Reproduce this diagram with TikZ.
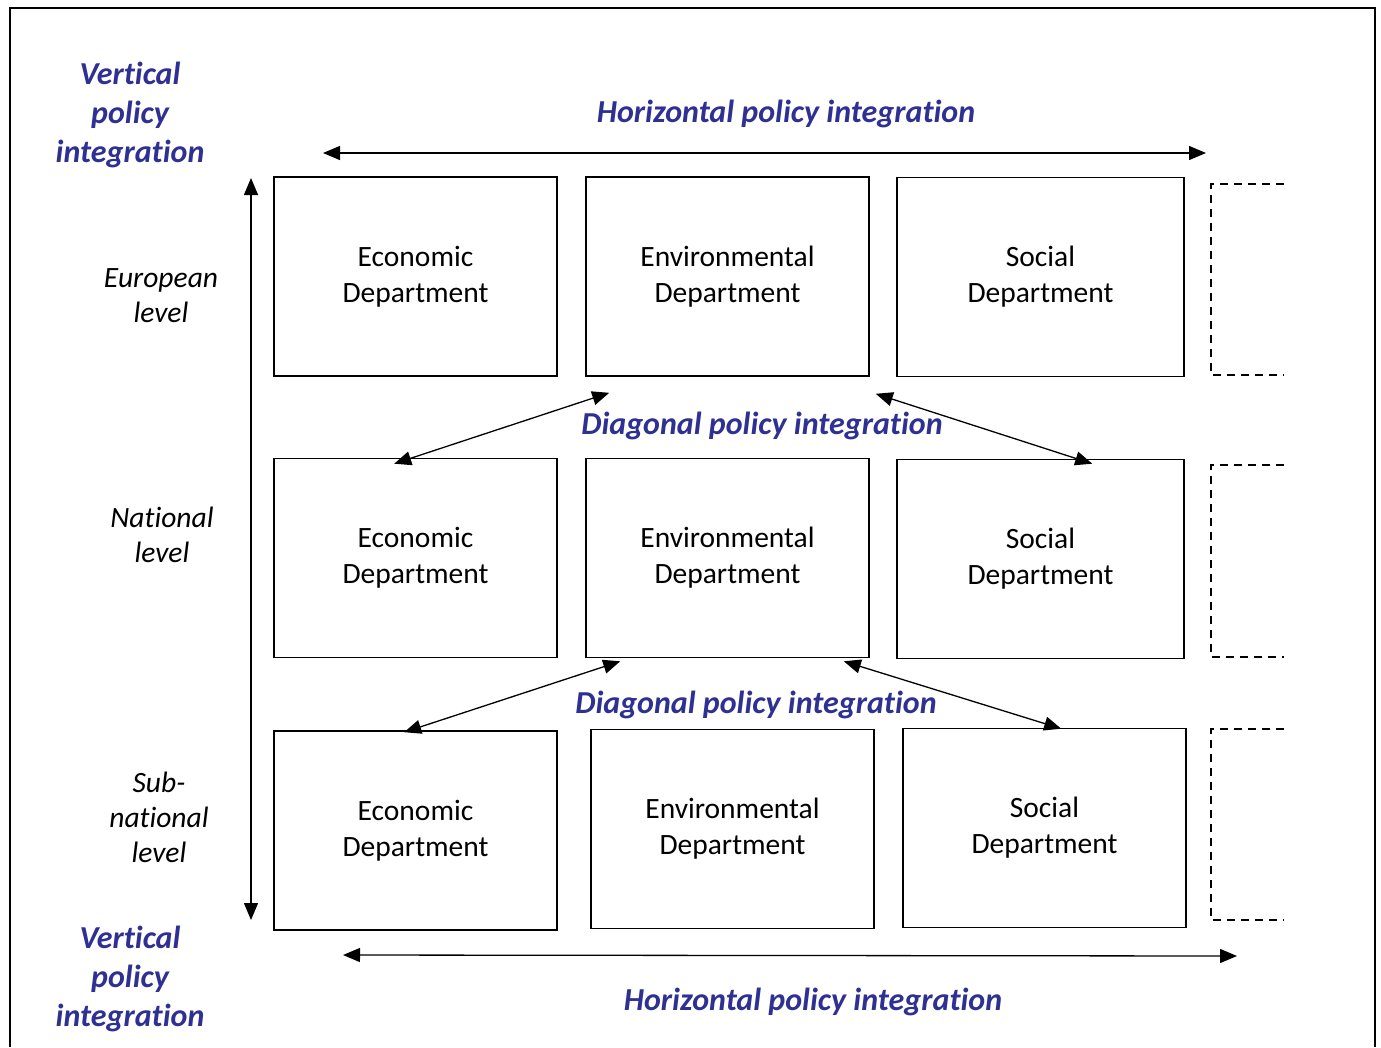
\documentclass[tikz,border=0pt]{standalone}
\usepackage{fontspec}
\setmainfont{Carlito}[Ligatures=NoCommon]
\usetikzlibrary{arrows.meta}
\definecolor{policyblue}{RGB}{46,49,146}

\begin{document}
\begin{tikzpicture}[x=1pt,y=-1pt,
	dept/.style={draw,line width=1.6pt,minimum width=283pt,minimum height=199pt,inner sep=0pt,align=center,font=\fontsize{29.5}{36}\selectfont},
	level/.style={align=center,font=\fontsize{29.5}{35}\selectfont\itshape},
	policy/.style={align=center,text=policyblue,font=\fontsize{32}{39}\selectfont\bfseries\itshape},
	link/.style={line width=1.3pt,{Triangle[length=17pt,width=14pt]}-{Triangle[length=17pt,width=14pt]}},
	more/.style={line width=1.3pt,dash pattern=on 8pt off 6pt}]
	\useasboundingbox (0,0) rectangle (1381,1047);
	\draw[line width=2pt] (10,1047) -- (10,8) -- (1375,8) -- (1375,1047);
	% departments, three levels
	\node[dept] (Eco1) at (415.5,276.5) {Economic\\Department};
	\node[dept] (Env1) at (727.5,276.5) {Environmental\\Department};
	\node[dept,minimum width=287pt] (Soc1) at (1040.5,277) {Social\\Department};
	\node[dept] (Eco2) at (415.5,558) {Economic\\Department};
	\node[dept] (Env2) at (727.5,558) {Environmental\\Department};
	\node[dept,minimum width=287pt] (Soc2) at (1040.5,559) {Social\\Department};
	\node[dept] (Eco3) at (415.5,830.5) {Economic\\Department};
	\node[dept] (Env3) at (732.5,829) {Environmental\\Department};
	\node[dept] (Soc3) at (1044.5,828) {Social\\Department};
	% further departments
	\draw[more] (1284,184) -- (1211,184) -- (1211,375) -- (1284,375);
	\draw[more] (1284,465) -- (1211,465) -- (1211,657) -- (1284,657);
	\draw[more] (1284,729) -- (1211,729) -- (1211,920) -- (1284,920);
	% levels
	\node[level] (Eur) at (161,296) {European\\level};
	\node[level] (Nat) at (162,535) {National\\level};
	\node[level] (Sub) at (159,817) {Sub-\\national\\level};
	% integration arrows
	\coordinate (HL1) at (323,153);
	\coordinate (HR1) at (1206,153);
	\coordinate (HL2) at (343,955);
	\coordinate (HR2) at (1237,956);
	\coordinate (VT) at (251,178);
	\coordinate (VB) at (251,920);
	\draw[link] (HL1) -- (HR1);
	\draw[link] (HL2) -- (HR2);
	\draw[link] (VT) -- (VB);
	\draw[link] ([shift={(24,16)}]Env1.south west) -- ([shift={(121,6)}]Eco2.north west);
	\draw[link] ([shift={(6,17)}]Env1.south east) -- ([shift={(196,5)}]Soc2.north west);
	\draw[link] ([shift={(35,3)}]Env2.south west) -- ([shift={(131,2)}]Eco3.north west);
	\draw[link] ([shift={(-26,3)}]Env2.south east) -- ([shift={(159,1)}]Soc3.north west);
	% policy labels
	\node[policy] (Vert1) at (130,115) {Vertical\\policy\\integration};
	\node[policy] (Vert2) at (130,979) {Vertical\\policy\\integration};
	\node[policy] (Hor1) at (786,114) {Horizontal policy integration};
	\node[policy] (Hor2) at (813,1002) {Horizontal policy integration};
	\node[policy] (Diag1) at (762,426) {Diagonal policy integration};
	\node[policy] (Diag2) at (756,705) {Diagonal policy integration};
\end{tikzpicture}
\end{document}
